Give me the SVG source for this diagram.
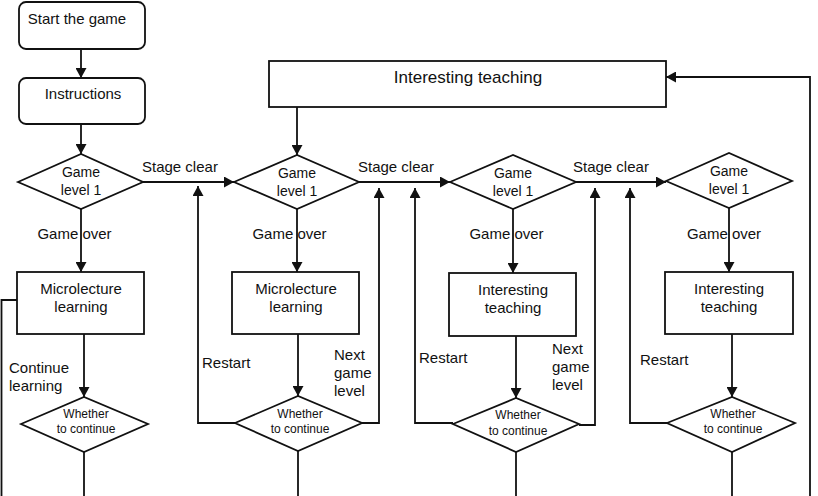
<svg xmlns="http://www.w3.org/2000/svg" width="818" height="496" viewBox="0 0 818 496">
<defs>
<marker id="ah" markerUnits="userSpaceOnUse" markerWidth="11" markerHeight="11" refX="10" refY="5.5" orient="auto">
<path d="M0,0 L10,5.5 L0,11 z" fill="#111"/>
</marker>
<style>
.n{fill:#fff;stroke:#111;stroke-width:1.8}
.c{fill:none;stroke:#111;stroke-width:1.8}
.a{marker-end:url(#ah)}
text{font-family:"Liberation Sans",Arial,sans-serif;fill:#111}
.t15{font-size:15px}
.t14{font-size:14px}
.t12{font-size:12px}
.t17{font-size:17px}
.m{text-anchor:middle}
</style>
</defs>
<rect width="818" height="496" fill="#fff"/>

<g id="connectors">
<path class="c a" d="M81,49 V78"/>
<path class="c a" d="M81,124 V154"/>
<path class="c a" d="M143,182 H234"/>
<path class="c a" d="M81,209 V272"/>
<path class="c" d="M17,300 H1.5 V496"/>
<path class="c a" d="M84,334 V397"/>
<path class="c" d="M84,452 V496"/>
<path class="c a" d="M235,423 H198 V186"/>
<path class="c a" d="M297,107 V155"/>
<path class="c a" d="M359,182 H450"/>
<path class="c a" d="M297,209 V272"/>
<path class="c a" d="M298,334 V396"/>
<path class="c a" d="M362,423 H379 V188"/>
<path class="c" d="M298,451 V496"/>
<path class="c a" d="M513,209 V273"/>
<path class="c a" d="M516,336 V398"/>
<path class="c a" d="M453,423 H415 V188"/>
<path class="c a" d="M579,425 H595 V188"/>
<path class="c" d="M516,452 V496"/>
<path class="c a" d="M576,182 H666"/>
<path class="c a" d="M729,208 V272"/>
<path class="c a" d="M732,334 V397"/>
<path class="c a" d="M667,423 H630 V188"/>
<path class="c" d="M732,452 V496"/>
<path class="c a" d="M810,496 V77 H666"/>
</g>

<g id="labels">
<text class="t15" x="142" y="172">Stage clear</text>
<text class="t15" x="358" y="172">Stage clear</text>
<text class="t15" x="573" y="172">Stage clear</text>
<text class="t15 m" x="74.5" y="239">Game over</text>
<text class="t15 m" x="289.5" y="239">Game over</text>
<text class="t15 m" x="506.5" y="239">Game over</text>
<text class="t15 m" x="724" y="239">Game over</text>
<text class="t15" x="9" y="373">Continue</text>
<text class="t15" x="9" y="391">learning</text>
<text class="t15" x="202" y="368">Restart</text>
<text class="t15" x="419" y="363">Restart</text>
<text class="t15" x="640" y="365">Restart</text>
<text class="t15" x="334" y="360">Next</text>
<text class="t15" x="334" y="378">game</text>
<text class="t15" x="334" y="396">level</text>
<text class="t15" x="552" y="354">Next</text>
<text class="t15" x="552" y="372">game</text>
<text class="t15" x="552" y="390">level</text>
</g>

<g id="start">
<rect class="n" x="19" y="2" width="126" height="47" rx="7"/>
<text class="t15 m" x="77" y="24">Start the game</text>
</g>
<g id="instructions">
<rect class="n" x="19" y="78" width="126" height="46" rx="7"/>
<text class="t15 m" x="83" y="99">Instructions</text>
</g>
<g id="teaching-top">
<rect class="n" x="269" y="61" width="397" height="46"/>
<text class="t17 m" x="468" y="83">Interesting teaching</text>
</g>

<g id="level1">
<polygon class="n" points="18,182 81,154 143,182 81,209"/>
<text class="t14 m" x="81" y="177">Game</text>
<text class="t14 m" x="81" y="195">level 1</text>
</g>
<g id="level2">
<polygon class="n" points="234,182 297,155 359,182 297,209"/>
<text class="t14 m" x="297" y="178">Game</text>
<text class="t14 m" x="297" y="196">level 1</text>
</g>
<g id="level3">
<polygon class="n" points="450,182 513,155 576,182 513,209"/>
<text class="t14 m" x="513" y="178">Game</text>
<text class="t14 m" x="513" y="196">level 1</text>
</g>
<g id="level4">
<polygon class="n" points="666,181 729,153 792,181 729,208"/>
<text class="t14 m" x="729" y="176">Game</text>
<text class="t14 m" x="729" y="194">level 1</text>
</g>

<g id="learn1">
<rect class="n" x="17" y="272" width="127" height="62"/>
<text class="t15 m" x="81" y="294">Microlecture</text>
<text class="t15 m" x="81" y="312">learning</text>
</g>
<g id="learn2">
<rect class="n" x="232" y="272" width="127" height="62"/>
<text class="t15 m" x="296" y="294">Microlecture</text>
<text class="t15 m" x="296" y="312">learning</text>
</g>
<g id="teach3">
<rect class="n" x="449" y="273" width="127" height="63"/>
<text class="t15 m" x="513" y="295">Interesting</text>
<text class="t15 m" x="513" y="313">teaching</text>
</g>
<g id="teach4">
<rect class="n" x="665" y="272" width="128" height="62"/>
<text class="t15 m" x="729" y="294">Interesting</text>
<text class="t15 m" x="729" y="312">teaching</text>
</g>

<g id="continue1">
<polygon class="n" points="21,424 84,397 148,424 84,452"/>
<text class="t12 m" x="86" y="418">Whether</text>
<text class="t12 m" x="86" y="433">to continue</text>
</g>
<g id="continue2">
<polygon class="n" points="235,423 298,396 362,423 298,451"/>
<text class="t12 m" x="300" y="418">Whether</text>
<text class="t12 m" x="300" y="433">to continue</text>
</g>
<g id="continue3">
<polygon class="n" points="453,424 516,398 579,424 516,452"/>
<text class="t12 m" x="518" y="419">Whether</text>
<text class="t12 m" x="518" y="435">to continue</text>
</g>
<g id="continue4">
<polygon class="n" points="667,423 732,397 795,423 732,452"/>
<text class="t12 m" x="733" y="418">Whether</text>
<text class="t12 m" x="733" y="433">to continue</text>
</g>
</svg>
